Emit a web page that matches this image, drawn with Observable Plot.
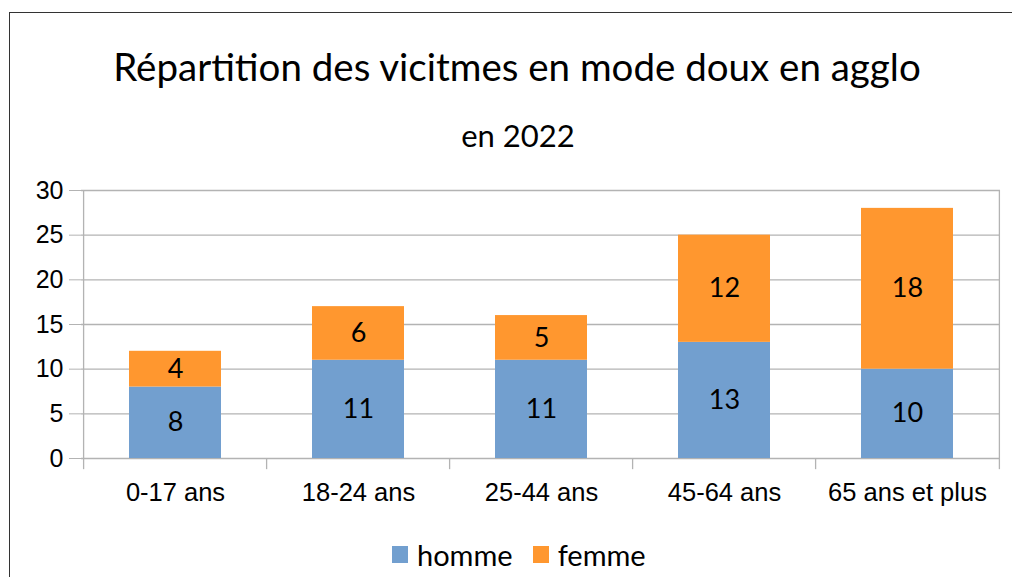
<!DOCTYPE html>
<html>
<head>
<meta charset="utf-8">
<script src="https://cdn.jsdelivr.net/npm/d3@7"></script>
<script src="https://cdn.jsdelivr.net/npm/@observablehq/plot@0.6"></script>
<style>
  html, body { margin: 0; padding: 0; background: #fff; }
  #wrap { position: relative; width: 1012px; height: 577px; overflow: hidden; background: #fff; }
  #frame { position: absolute; left: 9px; top: 12px; width: 1100px; height: 700px; border: 1.5px solid #333; box-sizing: border-box; }
  #title { position: absolute; left: 0; width: 1034px; top: 43px; text-align: center; font-family: Lato, sans-serif; font-size: 38.5px; color: #000; }
  #subtitle { position: absolute; left: 0; width: 1036px; top: 116px; text-align: center; font-family: Lato, sans-serif; font-size: 31px; color: #000; }
  #chart { position: absolute; left: 0; top: 170px; }
  #legend { position: absolute; top: 537px; left: 392px; display: flex; align-items: center; font-family: Lato, sans-serif; font-size: 29px; color: #000; }
  #legend .sw { width: 16px; height: 17px; display: inline-block; margin-right: 9px; }
  #legend .item { display: flex; align-items: center; margin-right: 20px; }
</style>
</head>
<body>
<div id="wrap">
  <div id="frame"></div>
  <div id="title">Répartition des vicitmes en mode doux en agglo</div>
  <div id="subtitle">en 2022</div>
  <div id="chart"></div>
  <div id="legend"></div>
</div>
<script>
const categories = ["0-17 ans", "18-24 ans", "25-44 ans", "45-64 ans", "65 ans et plus"];
const homme = [8, 11, 11, 13, 10];
const femme = [4, 6, 5, 12, 18];
const seriesNames = ["homme", "femme"];
const seriesColors = ["#729fcf", "#ff972f"];
const yTicks = [0, 5, 10, 15, 20, 25, 30];

const data = [];
categories.forEach((c, i) => {
  data.push({cat: c, serie: "homme", value: homme[i]});
  data.push({cat: c, serie: "femme", value: femme[i]});
});

const W = 1012, H = 350;
const mL = 81, mR = 12, mT = 20, mB = 62;
const step = (W - mL - mR) / categories.length;
const gridColor = "#b3b3b3";

const plot = Plot.plot({
  width: W,
  height: H,
  marginLeft: mL,
  marginRight: mR,
  marginTop: mT,
  marginBottom: mB,
  style: {fontFamily: "'Liberation Sans', Arial, sans-serif", background: "transparent"},
  x: {domain: categories, paddingInner: 0.5, paddingOuter: 0.25, label: null},
  y: {domain: [0, 30], label: null},
  color: {domain: seriesNames, range: seriesColors},
  marks: [
    Plot.ruleY(yTicks, {stroke: gridColor, strokeWidth: 1.3}),
    Plot.axisY({ticks: yTicks, tickSize: 12, tickPadding: 6, stroke: gridColor, fontSize: 25, fill: "#000", label: null, tickFormat: d => String(d)}),
    Plot.axisX({tickSize: 0, tickPadding: 24, fontSize: 25.5, fill: "#000", label: null}),
    Plot.ruleX(categories, {x: d => d, dx: -step / 2, y1: 0, y2: -1.25, stroke: gridColor, strokeWidth: 1.3}),
    Plot.ruleX([categories[categories.length - 1]], {x: d => d, dx: step / 2, y1: 0, y2: -1.25, stroke: gridColor, strokeWidth: 1.3}),
    Plot.ruleX([categories[0]], {x: d => d, dx: -step / 2, y1: 0, y2: 30, stroke: gridColor, strokeWidth: 1.3}),
    Plot.ruleX([categories[categories.length - 1]], {x: d => d, dx: step / 2, y1: 0, y2: 30, stroke: gridColor, strokeWidth: 1.3}),
    Plot.barY(data, {x: "cat", y: "value", z: "serie", fill: "serie", order: seriesNames}),
    Plot.text(data, Plot.stackY({x: "cat", y: "value", z: "serie", order: seriesNames, text: d => String(d.value), fontSize: 27, fontFamily: "Lato, sans-serif", fill: "#000"}))
  ]
});
document.getElementById("chart").appendChild(plot);

const legend = document.getElementById("legend");
seriesNames.forEach((s, i) => {
  const item = document.createElement("span");
  item.className = "item";
  const sw = document.createElement("span");
  sw.className = "sw";
  sw.style.background = seriesColors[i];
  item.appendChild(sw);
  item.appendChild(document.createTextNode(s));
  legend.appendChild(item);
});
</script>
</body>
</html>
